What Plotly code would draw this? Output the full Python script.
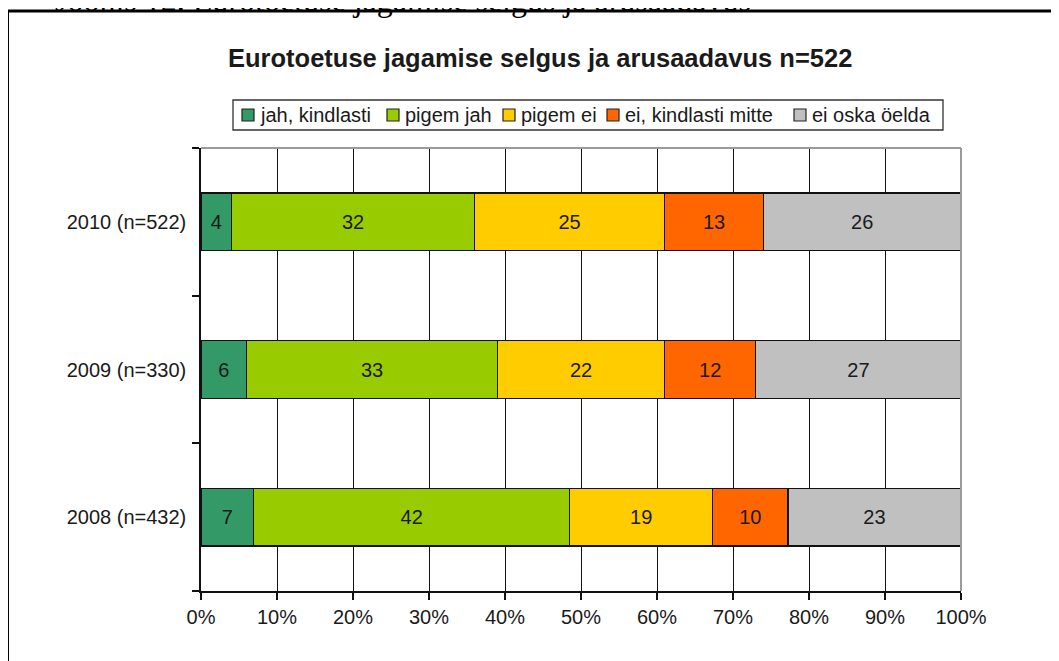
import plotly.graph_objects as go

categories = ["2008 (n=432)", "2009 (n=330)", "2010 (n=522)"]
series_names = ["jah, kindlasti", "pigem jah", "pigem ei", "ei, kindlasti mitte", "ei oska öelda"]
jah_kindlasti = [7, 6, 4]
pigem_jah = [42, 33, 32]
pigem_ei = [19, 22, 25]
ei_kindlasti_mitte = [10, 12, 13]
ei_oska_oelda = [23, 27, 26]
colors = ["#339966", "#99CC00", "#FFCC00", "#FF6600", "#C0C0C0"]
x_ticks = [0, 10, 20, 30, 40, 50, 60, 70, 80, 90, 100]
x_tick_labels = [f"{v}%" for v in x_ticks]

title = "Eurotoetuse jagamise selgus ja arusaadavus n=522"
caption = "Joonis 12. Eurotoetuse jagamise selgus ja arusaadavus"

OFF = 8  # page body margin
W, H = 1059 - OFF, 661 - OFF
L, R, T, B = 201 - OFF, 961 - OFF, 148 - OFF, 591 - OFF  # plot area in figure pixels


def px(x):
    return (x - OFF - L) / (R - L)


def py(y):
    return (B - (y - OFF)) / (B - T)


FONT = "Liberation Sans, Arial, sans-serif"
TXT = "#1a1a1a"

fig = go.Figure()
for name, vals, col in zip(series_names,
                           [jah_kindlasti, pigem_jah, pigem_ei, ei_kindlasti_mitte, ei_oska_oelda],
                           colors):
    fig.add_trace(go.Bar(
        y=categories, x=vals, name=name, orientation="h",
        marker=dict(color=col, line=dict(color="#111111", width=1.3)),
        text=[str(v) for v in vals], textposition="inside",
        insidetextanchor="middle", textangle=0,
        textfont=dict(family=FONT, size=20, color=TXT),
        hoverinfo="x+y+name", showlegend=False,
    ))

# Legend drawn as a framed row of swatches + labels (reference layout)
legend_swatch_x = [242, 387, 503, 607, 794]  # left edge of each swatch, page px
LEG_Y = 115
shapes = [
    dict(type="rect", xref="paper", yref="paper",
         x0=px(233), x1=px(943), y0=py(100), y1=py(130),
         line=dict(color="#333333", width=1.3), fillcolor="white", layer="above"),
]
annotations = []
for name, col, sx in zip(series_names, colors, legend_swatch_x):
    shapes.append(dict(type="rect", xref="paper", yref="paper",
                       x0=px(sx), x1=px(sx + 12), y0=py(LEG_Y - 6), y1=py(LEG_Y + 6),
                       line=dict(color="#222222", width=1.2), fillcolor=col, layer="above"))
    annotations.append(dict(text=name, xref="paper", yref="paper",
                            x=px(sx + 16), y=py(LEG_Y), xanchor="left", yanchor="middle",
                            showarrow=False, font=dict(family=FONT, size=20, color=TXT)))

shapes += [
    # gray top and right edges of plot area
    dict(type="line", xref="paper", yref="paper", x0=0, x1=1, y0=1, y1=1,
         line=dict(color="#9a9a9a", width=2), layer="above"),
    dict(type="line", xref="paper", yref="paper", x0=1, x1=1, y0=0, y1=1,
         line=dict(color="#9a9a9a", width=2), layer="above"),
    # outer black frame
    dict(type="rect", xref="paper", yref="paper",
         x0=px(7.5), x1=px(1075), y0=py(11), y1=py(680),
         line=dict(color="black", width=3), fillcolor="rgba(0,0,0,0)", layer="above"),
]
annotations += [
    dict(text="<b>" + title + "</b>", xref="paper", yref="paper",
         x=px(540), y=py(58), xanchor="center", yanchor="middle",
         showarrow=False, font=dict(family=FONT, size=25.5, color=TXT)),
    dict(text=caption, xref="paper", yref="paper",
         x=px(53), y=py(20), xanchor="left", yanchor="bottom",
         showarrow=False,
         font=dict(family="Liberation Serif, Times New Roman, serif", size=32, color="black")),
]

fig.update_layout(
    width=W, height=H,
    margin=dict(l=L, r=W - R, t=T, b=H - B, pad=0),
    barmode="stack", barnorm="percent", bargap=0.61,
    plot_bgcolor="white", paper_bgcolor="white",
    font=dict(family=FONT, size=20, color=TXT),
    uniformtext=dict(mode="show", minsize=10),
    showlegend=False,
    xaxis=dict(
        range=[0, 100], tickvals=x_ticks, ticktext=x_tick_labels,
        showgrid=True, gridcolor="#111111", gridwidth=1.3,
        showline=True, linecolor="#111111", linewidth=1.5,
        ticks="outside", ticklen=7, tickcolor="#111111", tickwidth=1.5,
        zeroline=False, fixedrange=True,
        tickfont=dict(family=FONT, size=20, color=TXT),
    ),
    yaxis=dict(
        categoryorder="array", categoryarray=categories,
        range=[-0.5, 2.5],
        showgrid=False, showline=True, linecolor="#111111", linewidth=1.5,
        ticks="outside", tickson="boundaries", ticklen=7,
        tickcolor="#111111", tickwidth=1.5,
        ticklabelstandoff=9,
        tickfont=dict(family=FONT, size=20, color=TXT),
        fixedrange=True,
    ),
    shapes=shapes,
    annotations=annotations,
)

fig.write_html("out.html")
